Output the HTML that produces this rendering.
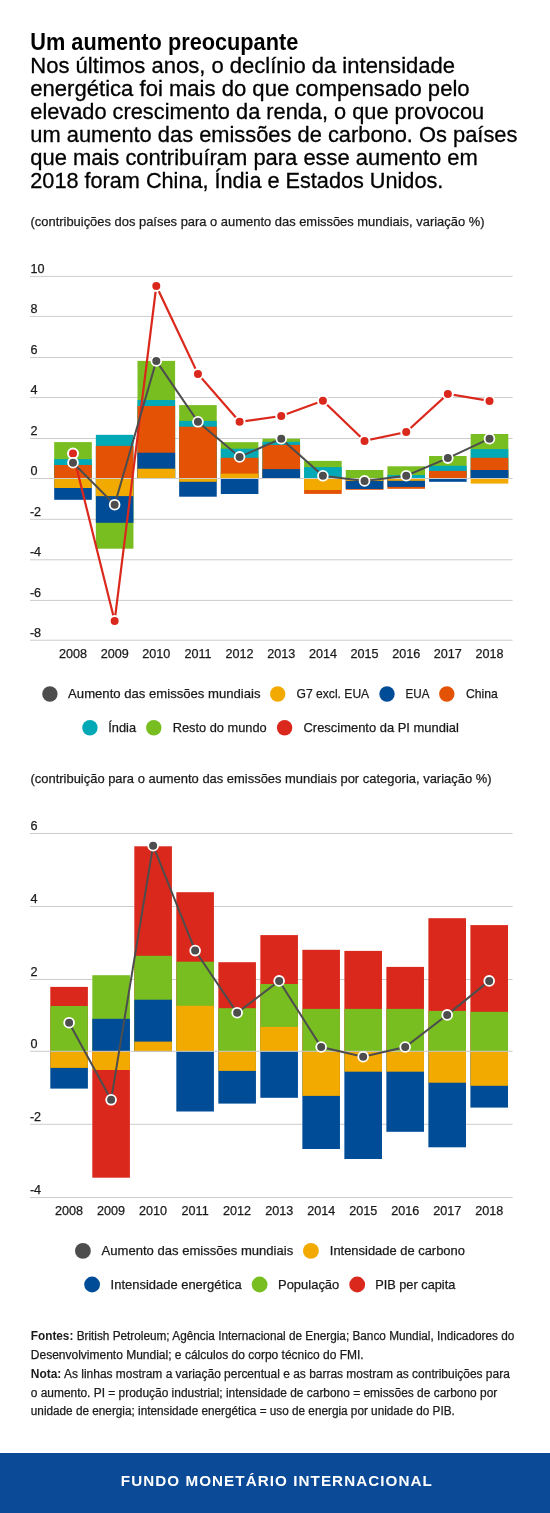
<!DOCTYPE html>
<html><head><meta charset="utf-8"><title>Um aumento preocupante</title>
<style>
html,body{margin:0;padding:0;background:#fff;}
body{width:550px;height:1513px;overflow:hidden;}
svg{display:block;font-family:"Liberation Sans", sans-serif;will-change:transform;}
</style></head><body>
<svg width="550" height="1513" viewBox="0 0 550 1513">
<text x="30.3" y="50" font-size="23" font-weight="bold" fill="#000" text-anchor="start" textLength="268" lengthAdjust="spacingAndGlyphs">Um aumento preocupante</text>
<text x="30.3" y="72.7" font-size="21.8" font-weight="normal" fill="#000" text-anchor="start" textLength="424.7" lengthAdjust="spacingAndGlyphs" stroke="#000" stroke-width="0.3">Nos últimos anos, o declínio da intensidade</text>
<text x="30.3" y="95.7" font-size="21.8" font-weight="normal" fill="#000" text-anchor="start" textLength="439.3" lengthAdjust="spacingAndGlyphs" stroke="#000" stroke-width="0.3">energética foi mais do que compensado pelo</text>
<text x="30.3" y="118.7" font-size="21.8" font-weight="normal" fill="#000" text-anchor="start" textLength="453.9" lengthAdjust="spacingAndGlyphs" stroke="#000" stroke-width="0.3">elevado crescimento da renda, o que provocou</text>
<text x="30.3" y="141.7" font-size="21.8" font-weight="normal" fill="#000" text-anchor="start" textLength="487.1" lengthAdjust="spacingAndGlyphs" stroke="#000" stroke-width="0.3">um aumento das emissões de carbono. Os países</text>
<text x="30.3" y="164.7" font-size="21.8" font-weight="normal" fill="#000" text-anchor="start" textLength="447.5" lengthAdjust="spacingAndGlyphs" stroke="#000" stroke-width="0.3">que mais contribuíram para esse aumento em</text>
<text x="30.3" y="187.7" font-size="21.8" font-weight="normal" fill="#000" text-anchor="start" textLength="413.0" lengthAdjust="spacingAndGlyphs" stroke="#000" stroke-width="0.3">2018 foram China, Índia e Estados Unidos.</text>
<text x="30.5" y="225.5" font-size="12.9" font-weight="normal" fill="#1a1a1a" text-anchor="start" textLength="454" lengthAdjust="spacingAndGlyphs" stroke="#1a1a1a" stroke-width="0.25">(contribuições dos países para o aumento das emissões mundiais, variação %)</text>
<rect x="30" y="275.90" width="482.6" height="1" fill="#cccccc"/>
<text x="30.5" y="272.9" font-size="12.6" font-weight="normal" fill="#1a1a1a" text-anchor="start" stroke="#1a1a1a" stroke-width="0.25">10</text>
<rect x="30" y="315.90" width="482.6" height="1" fill="#cccccc"/>
<text x="30.5" y="312.9" font-size="12.6" font-weight="normal" fill="#1a1a1a" text-anchor="start" stroke="#1a1a1a" stroke-width="0.25">8</text>
<rect x="30" y="357.00" width="482.6" height="1" fill="#cccccc"/>
<text x="30.5" y="354.0" font-size="12.6" font-weight="normal" fill="#1a1a1a" text-anchor="start" stroke="#1a1a1a" stroke-width="0.25">6</text>
<rect x="30" y="397.00" width="482.6" height="1" fill="#cccccc"/>
<text x="30.5" y="394.0" font-size="12.6" font-weight="normal" fill="#1a1a1a" text-anchor="start" stroke="#1a1a1a" stroke-width="0.25">4</text>
<rect x="30" y="438.00" width="482.6" height="1" fill="#cccccc"/>
<text x="30.5" y="435.0" font-size="12.6" font-weight="normal" fill="#1a1a1a" text-anchor="start" stroke="#1a1a1a" stroke-width="0.25">2</text>
<text x="30.5" y="475.0" font-size="12.6" font-weight="normal" fill="#1a1a1a" text-anchor="start" stroke="#1a1a1a" stroke-width="0.25">0</text>
<rect x="30" y="518.80" width="482.6" height="1" fill="#cccccc"/>
<text x="29.9" y="515.8" font-size="12.6" font-weight="normal" fill="#1a1a1a" text-anchor="start" stroke="#1a1a1a" stroke-width="0.25">-2</text>
<rect x="30" y="559.30" width="482.6" height="1" fill="#cccccc"/>
<text x="29.9" y="556.3" font-size="12.6" font-weight="normal" fill="#1a1a1a" text-anchor="start" stroke="#1a1a1a" stroke-width="0.25">-4</text>
<rect x="30" y="599.90" width="482.6" height="1" fill="#cccccc"/>
<text x="29.9" y="596.9" font-size="12.6" font-weight="normal" fill="#1a1a1a" text-anchor="start" stroke="#1a1a1a" stroke-width="0.25">-6</text>
<rect x="30" y="639.70" width="482.6" height="1" fill="#cccccc"/>
<text x="29.9" y="636.7" font-size="12.6" font-weight="normal" fill="#1a1a1a" text-anchor="start" stroke="#1a1a1a" stroke-width="0.25">-8</text>
<rect x="54.20" y="442.10" width="37.60" height="36.40" fill="#78be20"/>
<rect x="54.20" y="459.10" width="37.60" height="19.40" fill="#00a9b5"/>
<rect x="54.20" y="465.00" width="37.60" height="13.50" fill="#e35205"/>
<rect x="54.20" y="478.50" width="37.60" height="21.30" fill="#004c97"/>
<rect x="54.20" y="478.50" width="37.60" height="9.50" fill="#f2a900"/>
<rect x="95.85" y="434.80" width="37.60" height="43.70" fill="#00a9b5"/>
<rect x="95.85" y="445.90" width="37.60" height="32.60" fill="#e35205"/>
<rect x="95.85" y="478.50" width="37.60" height="70.20" fill="#78be20"/>
<rect x="95.85" y="478.50" width="37.60" height="44.30" fill="#004c97"/>
<rect x="95.85" y="478.50" width="37.60" height="17.60" fill="#f2a900"/>
<rect x="137.50" y="360.90" width="37.60" height="117.60" fill="#78be20"/>
<rect x="137.50" y="400.00" width="37.60" height="78.50" fill="#00a9b5"/>
<rect x="137.50" y="406.00" width="37.60" height="72.50" fill="#e35205"/>
<rect x="137.50" y="452.70" width="37.60" height="25.80" fill="#004c97"/>
<rect x="137.50" y="468.70" width="37.60" height="9.80" fill="#f2a900"/>
<rect x="179.15" y="405.10" width="37.60" height="73.40" fill="#78be20"/>
<rect x="179.15" y="420.90" width="37.60" height="57.60" fill="#00a9b5"/>
<rect x="179.15" y="426.70" width="37.60" height="51.80" fill="#e35205"/>
<rect x="179.15" y="478.50" width="37.60" height="18.20" fill="#004c97"/>
<rect x="179.15" y="478.50" width="37.60" height="3.30" fill="#f2a900"/>
<rect x="220.80" y="442.20" width="37.60" height="36.30" fill="#78be20"/>
<rect x="220.80" y="448.70" width="37.60" height="29.80" fill="#00a9b5"/>
<rect x="220.80" y="457.80" width="37.60" height="20.70" fill="#e35205"/>
<rect x="220.80" y="473.60" width="37.60" height="4.90" fill="#f2a900"/>
<rect x="220.80" y="478.50" width="37.60" height="15.50" fill="#004c97"/>
<rect x="262.45" y="438.70" width="37.60" height="39.80" fill="#78be20"/>
<rect x="262.45" y="441.80" width="37.60" height="36.70" fill="#00a9b5"/>
<rect x="262.45" y="444.90" width="37.60" height="33.60" fill="#e35205"/>
<rect x="262.45" y="469.10" width="37.60" height="9.40" fill="#004c97"/>
<rect x="304.10" y="460.90" width="37.60" height="17.60" fill="#78be20"/>
<rect x="304.10" y="467.10" width="37.60" height="11.40" fill="#00a9b5"/>
<rect x="304.10" y="478.50" width="37.60" height="15.40" fill="#e35205"/>
<rect x="304.10" y="478.50" width="37.60" height="11.50" fill="#f2a900"/>
<rect x="345.75" y="470.00" width="37.60" height="8.50" fill="#78be20"/>
<rect x="345.75" y="478.50" width="37.60" height="11.30" fill="#e35205"/>
<rect x="345.75" y="478.50" width="37.60" height="10.50" fill="#004c97"/>
<rect x="345.75" y="478.50" width="37.60" height="2.40" fill="#f2a900"/>
<rect x="387.40" y="466.30" width="37.60" height="12.20" fill="#78be20"/>
<rect x="387.40" y="475.00" width="37.60" height="3.50" fill="#00a9b5"/>
<rect x="387.40" y="478.50" width="37.60" height="10.30" fill="#e35205"/>
<rect x="387.40" y="478.50" width="37.60" height="8.40" fill="#004c97"/>
<rect x="387.40" y="478.50" width="37.60" height="2.30" fill="#f2a900"/>
<rect x="429.05" y="456.00" width="37.60" height="22.50" fill="#78be20"/>
<rect x="429.05" y="465.80" width="37.60" height="12.70" fill="#00a9b5"/>
<rect x="429.05" y="470.90" width="37.60" height="7.60" fill="#e35205"/>
<rect x="429.05" y="478.50" width="37.60" height="3.30" fill="#004c97"/>
<rect x="470.70" y="434.00" width="37.60" height="44.50" fill="#78be20"/>
<rect x="470.70" y="449.10" width="37.60" height="29.40" fill="#00a9b5"/>
<rect x="470.70" y="457.80" width="37.60" height="20.70" fill="#e35205"/>
<rect x="470.70" y="470.00" width="37.60" height="8.50" fill="#004c97"/>
<rect x="470.70" y="478.50" width="37.60" height="5.10" fill="#f2a900"/>
<rect x="30" y="478.0" width="482.6" height="1" fill="#cccccc"/>
<polyline points="73.00,453.6 114.65,620.9 156.30,286 197.95,374 239.60,421.8 281.25,416 322.90,400.7 364.55,440.9 406.20,432 447.85,393.9 489.50,400.9" fill="none" stroke="#da291c" stroke-width="2.2"/>
<circle cx="73.00" cy="453.60" r="5.0" fill="#da291c" stroke="#fff" stroke-width="2.0"/>
<circle cx="114.65" cy="620.90" r="5.0" fill="#da291c" stroke="#fff" stroke-width="2.0"/>
<circle cx="156.30" cy="286.00" r="5.0" fill="#da291c" stroke="#fff" stroke-width="2.0"/>
<circle cx="197.95" cy="374.00" r="5.0" fill="#da291c" stroke="#fff" stroke-width="2.0"/>
<circle cx="239.60" cy="421.80" r="5.0" fill="#da291c" stroke="#fff" stroke-width="2.0"/>
<circle cx="281.25" cy="416.00" r="5.0" fill="#da291c" stroke="#fff" stroke-width="2.0"/>
<circle cx="322.90" cy="400.70" r="5.0" fill="#da291c" stroke="#fff" stroke-width="2.0"/>
<circle cx="364.55" cy="440.90" r="5.0" fill="#da291c" stroke="#fff" stroke-width="2.0"/>
<circle cx="406.20" cy="432.00" r="5.0" fill="#da291c" stroke="#fff" stroke-width="2.0"/>
<circle cx="447.85" cy="393.90" r="5.0" fill="#da291c" stroke="#fff" stroke-width="2.0"/>
<circle cx="489.50" cy="400.90" r="5.0" fill="#da291c" stroke="#fff" stroke-width="2.0"/>
<polyline points="73.00,462.7 114.65,504.7 156.30,360.9 197.95,421.8 239.60,456.9 281.25,438.7 322.90,475.8 364.55,480.9 406.20,475.7 447.85,458.1 489.50,438.7" fill="none" stroke="#4d4d4d" stroke-width="2"/>
<circle cx="73.00" cy="462.70" r="4.9" fill="#4d4d4d" stroke="#fff" stroke-width="1.8"/>
<circle cx="114.65" cy="504.70" r="4.9" fill="#4d4d4d" stroke="#fff" stroke-width="1.8"/>
<circle cx="156.30" cy="360.90" r="4.9" fill="#4d4d4d" stroke="#fff" stroke-width="1.8"/>
<circle cx="197.95" cy="421.80" r="4.9" fill="#4d4d4d" stroke="#fff" stroke-width="1.8"/>
<circle cx="239.60" cy="456.90" r="4.9" fill="#4d4d4d" stroke="#fff" stroke-width="1.8"/>
<circle cx="281.25" cy="438.70" r="4.9" fill="#4d4d4d" stroke="#fff" stroke-width="1.8"/>
<circle cx="322.90" cy="475.80" r="4.9" fill="#4d4d4d" stroke="#fff" stroke-width="1.8"/>
<circle cx="364.55" cy="480.90" r="4.9" fill="#4d4d4d" stroke="#fff" stroke-width="1.8"/>
<circle cx="406.20" cy="475.70" r="4.9" fill="#4d4d4d" stroke="#fff" stroke-width="1.8"/>
<circle cx="447.85" cy="458.10" r="4.9" fill="#4d4d4d" stroke="#fff" stroke-width="1.8"/>
<circle cx="489.50" cy="438.70" r="4.9" fill="#4d4d4d" stroke="#fff" stroke-width="1.8"/>
<text x="73.0" y="657.7" font-size="12.6" font-weight="normal" fill="#1a1a1a" text-anchor="middle" stroke="#1a1a1a" stroke-width="0.25">2008</text>
<text x="114.65" y="657.7" font-size="12.6" font-weight="normal" fill="#1a1a1a" text-anchor="middle" stroke="#1a1a1a" stroke-width="0.25">2009</text>
<text x="156.3" y="657.7" font-size="12.6" font-weight="normal" fill="#1a1a1a" text-anchor="middle" stroke="#1a1a1a" stroke-width="0.25">2010</text>
<text x="197.95" y="657.7" font-size="12.6" font-weight="normal" fill="#1a1a1a" text-anchor="middle" stroke="#1a1a1a" stroke-width="0.25">2011</text>
<text x="239.6" y="657.7" font-size="12.6" font-weight="normal" fill="#1a1a1a" text-anchor="middle" stroke="#1a1a1a" stroke-width="0.25">2012</text>
<text x="281.25" y="657.7" font-size="12.6" font-weight="normal" fill="#1a1a1a" text-anchor="middle" stroke="#1a1a1a" stroke-width="0.25">2013</text>
<text x="322.9" y="657.7" font-size="12.6" font-weight="normal" fill="#1a1a1a" text-anchor="middle" stroke="#1a1a1a" stroke-width="0.25">2014</text>
<text x="364.55" y="657.7" font-size="12.6" font-weight="normal" fill="#1a1a1a" text-anchor="middle" stroke="#1a1a1a" stroke-width="0.25">2015</text>
<text x="406.2" y="657.7" font-size="12.6" font-weight="normal" fill="#1a1a1a" text-anchor="middle" stroke="#1a1a1a" stroke-width="0.25">2016</text>
<text x="447.85" y="657.7" font-size="12.6" font-weight="normal" fill="#1a1a1a" text-anchor="middle" stroke="#1a1a1a" stroke-width="0.25">2017</text>
<text x="489.5" y="657.7" font-size="12.6" font-weight="normal" fill="#1a1a1a" text-anchor="middle" stroke="#1a1a1a" stroke-width="0.25">2018</text>
<circle cx="49.90" cy="694.00" r="7.7" fill="#4d4d4d"/>
<text x="68.1" y="698.2" font-size="12.9" font-weight="normal" fill="#1a1a1a" text-anchor="start" textLength="192.4" lengthAdjust="spacingAndGlyphs" stroke="#1a1a1a" stroke-width="0.25">Aumento das emissões mundiais</text>
<circle cx="277.70" cy="694.00" r="7.7" fill="#f2a900"/>
<text x="296.6" y="698.2" font-size="12.9" font-weight="normal" fill="#1a1a1a" text-anchor="start" textLength="72.6" lengthAdjust="spacingAndGlyphs" stroke="#1a1a1a" stroke-width="0.25">G7 excl. EUA</text>
<circle cx="387.00" cy="694.00" r="7.7" fill="#004c97"/>
<text x="405.6" y="698.2" font-size="12.9" font-weight="normal" fill="#1a1a1a" text-anchor="start" textLength="23.9" lengthAdjust="spacingAndGlyphs" stroke="#1a1a1a" stroke-width="0.25">EUA</text>
<circle cx="446.80" cy="694.00" r="7.7" fill="#e35205"/>
<text x="465.9" y="698.2" font-size="12.9" font-weight="normal" fill="#1a1a1a" text-anchor="start" textLength="31.8" lengthAdjust="spacingAndGlyphs" stroke="#1a1a1a" stroke-width="0.25">China</text>
<circle cx="89.90" cy="727.80" r="7.7" fill="#00a9b5"/>
<text x="108.3" y="732" font-size="12.9" font-weight="normal" fill="#1a1a1a" text-anchor="start" textLength="27.8" lengthAdjust="spacingAndGlyphs" stroke="#1a1a1a" stroke-width="0.25">Índia</text>
<circle cx="153.80" cy="727.80" r="7.7" fill="#78be20"/>
<text x="172.7" y="732" font-size="12.9" font-weight="normal" fill="#1a1a1a" text-anchor="start" textLength="94.0" lengthAdjust="spacingAndGlyphs" stroke="#1a1a1a" stroke-width="0.25">Resto do mundo</text>
<circle cx="284.60" cy="727.80" r="7.7" fill="#da291c"/>
<text x="303.5" y="732" font-size="12.9" font-weight="normal" fill="#1a1a1a" text-anchor="start" textLength="155.4" lengthAdjust="spacingAndGlyphs" stroke="#1a1a1a" stroke-width="0.25">Crescimento da PI mundial</text>
<text x="30.5" y="783.3" font-size="12.9" font-weight="normal" fill="#1a1a1a" text-anchor="start" textLength="461" lengthAdjust="spacingAndGlyphs" stroke="#1a1a1a" stroke-width="0.25">(contribuição para o aumento das emissões mundiais por categoria, variação %)</text>
<rect x="30" y="833.00" width="482.6" height="1" fill="#cccccc"/>
<text x="30.5" y="830.0" font-size="12.6" font-weight="normal" fill="#1a1a1a" text-anchor="start" stroke="#1a1a1a" stroke-width="0.25">6</text>
<rect x="30" y="906.00" width="482.6" height="1" fill="#cccccc"/>
<text x="30.5" y="903.0" font-size="12.6" font-weight="normal" fill="#1a1a1a" text-anchor="start" stroke="#1a1a1a" stroke-width="0.25">4</text>
<rect x="30" y="979.00" width="482.6" height="1" fill="#cccccc"/>
<text x="30.5" y="976.0" font-size="12.6" font-weight="normal" fill="#1a1a1a" text-anchor="start" stroke="#1a1a1a" stroke-width="0.25">2</text>
<text x="30.5" y="1047.8" font-size="12.6" font-weight="normal" fill="#1a1a1a" text-anchor="start" stroke="#1a1a1a" stroke-width="0.25">0</text>
<rect x="30" y="1123.80" width="482.6" height="1" fill="#cccccc"/>
<text x="29.9" y="1120.8" font-size="12.6" font-weight="normal" fill="#1a1a1a" text-anchor="start" stroke="#1a1a1a" stroke-width="0.25">-2</text>
<rect x="30" y="1197.00" width="482.6" height="1" fill="#cccccc"/>
<text x="29.9" y="1194.0" font-size="12.6" font-weight="normal" fill="#1a1a1a" text-anchor="start" stroke="#1a1a1a" stroke-width="0.25">-4</text>
<rect x="50.30" y="986.90" width="37.60" height="64.40" fill="#da291c"/>
<rect x="50.30" y="1006.00" width="37.60" height="45.30" fill="#78be20"/>
<rect x="50.30" y="1051.30" width="37.60" height="37.30" fill="#004c97"/>
<rect x="50.30" y="1051.30" width="37.60" height="16.60" fill="#f2a900"/>
<rect x="92.31" y="975.20" width="37.60" height="76.10" fill="#78be20"/>
<rect x="92.31" y="1018.80" width="37.60" height="32.50" fill="#004c97"/>
<rect x="92.31" y="1051.30" width="37.60" height="126.40" fill="#da291c"/>
<rect x="92.31" y="1051.30" width="37.60" height="18.70" fill="#f2a900"/>
<rect x="134.32" y="846.30" width="37.60" height="205.00" fill="#da291c"/>
<rect x="134.32" y="955.80" width="37.60" height="95.50" fill="#78be20"/>
<rect x="134.32" y="999.70" width="37.60" height="51.60" fill="#004c97"/>
<rect x="134.32" y="1041.60" width="37.60" height="9.70" fill="#f2a900"/>
<rect x="176.33" y="892.20" width="37.60" height="159.10" fill="#da291c"/>
<rect x="176.33" y="961.70" width="37.60" height="89.60" fill="#78be20"/>
<rect x="176.33" y="1005.80" width="37.60" height="45.50" fill="#f2a900"/>
<rect x="176.33" y="1051.30" width="37.60" height="60.20" fill="#004c97"/>
<rect x="218.34" y="962.20" width="37.60" height="89.10" fill="#da291c"/>
<rect x="218.34" y="1008.20" width="37.60" height="43.10" fill="#78be20"/>
<rect x="218.34" y="1051.30" width="37.60" height="52.30" fill="#004c97"/>
<rect x="218.34" y="1051.30" width="37.60" height="19.60" fill="#f2a900"/>
<rect x="260.35" y="935.10" width="37.60" height="116.20" fill="#da291c"/>
<rect x="260.35" y="984.00" width="37.60" height="67.30" fill="#78be20"/>
<rect x="260.35" y="1026.90" width="37.60" height="24.40" fill="#f2a900"/>
<rect x="260.35" y="1051.30" width="37.60" height="46.50" fill="#004c97"/>
<rect x="302.36" y="949.80" width="37.60" height="101.50" fill="#da291c"/>
<rect x="302.36" y="1008.90" width="37.60" height="42.40" fill="#78be20"/>
<rect x="302.36" y="1051.30" width="37.60" height="97.70" fill="#004c97"/>
<rect x="302.36" y="1051.30" width="37.60" height="44.60" fill="#f2a900"/>
<rect x="344.37" y="950.90" width="37.60" height="100.40" fill="#da291c"/>
<rect x="344.37" y="1008.90" width="37.60" height="42.40" fill="#78be20"/>
<rect x="344.37" y="1051.30" width="37.60" height="107.70" fill="#004c97"/>
<rect x="344.37" y="1051.30" width="37.60" height="20.40" fill="#f2a900"/>
<rect x="386.38" y="966.90" width="37.60" height="84.40" fill="#da291c"/>
<rect x="386.38" y="1008.90" width="37.60" height="42.40" fill="#78be20"/>
<rect x="386.38" y="1051.30" width="37.60" height="80.50" fill="#004c97"/>
<rect x="386.38" y="1051.30" width="37.60" height="20.40" fill="#f2a900"/>
<rect x="428.39" y="918.20" width="37.60" height="133.10" fill="#da291c"/>
<rect x="428.39" y="1010.90" width="37.60" height="40.40" fill="#78be20"/>
<rect x="428.39" y="1051.30" width="37.60" height="96.00" fill="#004c97"/>
<rect x="428.39" y="1051.30" width="37.60" height="31.40" fill="#f2a900"/>
<rect x="470.40" y="925.10" width="37.60" height="126.20" fill="#da291c"/>
<rect x="470.40" y="1011.80" width="37.60" height="39.50" fill="#78be20"/>
<rect x="470.40" y="1051.30" width="37.60" height="56.30" fill="#004c97"/>
<rect x="470.40" y="1051.30" width="37.60" height="34.50" fill="#f2a900"/>
<rect x="30" y="1050.8" width="482.6" height="1" fill="#cccccc"/>
<polyline points="69.10,1022.7 111.11,1099.8 153.12,845.7 195.13,950.6 237.14,1012.7 279.15,980.9 321.16,1047 363.17,1056.7 405.18,1047 447.19,1014.9 489.20,980.9" fill="none" stroke="#4d4d4d" stroke-width="2"/>
<circle cx="69.10" cy="1022.70" r="4.9" fill="#4d4d4d" stroke="#fff" stroke-width="1.8"/>
<circle cx="111.11" cy="1099.80" r="4.9" fill="#4d4d4d" stroke="#fff" stroke-width="1.8"/>
<circle cx="153.12" cy="845.70" r="4.9" fill="#4d4d4d" stroke="#fff" stroke-width="1.8"/>
<circle cx="195.13" cy="950.60" r="4.9" fill="#4d4d4d" stroke="#fff" stroke-width="1.8"/>
<circle cx="237.14" cy="1012.70" r="4.9" fill="#4d4d4d" stroke="#fff" stroke-width="1.8"/>
<circle cx="279.15" cy="980.90" r="4.9" fill="#4d4d4d" stroke="#fff" stroke-width="1.8"/>
<circle cx="321.16" cy="1047.00" r="4.9" fill="#4d4d4d" stroke="#fff" stroke-width="1.8"/>
<circle cx="363.17" cy="1056.70" r="4.9" fill="#4d4d4d" stroke="#fff" stroke-width="1.8"/>
<circle cx="405.18" cy="1047.00" r="4.9" fill="#4d4d4d" stroke="#fff" stroke-width="1.8"/>
<circle cx="447.19" cy="1014.90" r="4.9" fill="#4d4d4d" stroke="#fff" stroke-width="1.8"/>
<circle cx="489.20" cy="980.90" r="4.9" fill="#4d4d4d" stroke="#fff" stroke-width="1.8"/>
<text x="69.1" y="1214.7" font-size="12.6" font-weight="normal" fill="#1a1a1a" text-anchor="middle" stroke="#1a1a1a" stroke-width="0.25">2008</text>
<text x="111.11" y="1214.7" font-size="12.6" font-weight="normal" fill="#1a1a1a" text-anchor="middle" stroke="#1a1a1a" stroke-width="0.25">2009</text>
<text x="153.12" y="1214.7" font-size="12.6" font-weight="normal" fill="#1a1a1a" text-anchor="middle" stroke="#1a1a1a" stroke-width="0.25">2010</text>
<text x="195.13" y="1214.7" font-size="12.6" font-weight="normal" fill="#1a1a1a" text-anchor="middle" stroke="#1a1a1a" stroke-width="0.25">2011</text>
<text x="237.14" y="1214.7" font-size="12.6" font-weight="normal" fill="#1a1a1a" text-anchor="middle" stroke="#1a1a1a" stroke-width="0.25">2012</text>
<text x="279.15" y="1214.7" font-size="12.6" font-weight="normal" fill="#1a1a1a" text-anchor="middle" stroke="#1a1a1a" stroke-width="0.25">2013</text>
<text x="321.16" y="1214.7" font-size="12.6" font-weight="normal" fill="#1a1a1a" text-anchor="middle" stroke="#1a1a1a" stroke-width="0.25">2014</text>
<text x="363.17" y="1214.7" font-size="12.6" font-weight="normal" fill="#1a1a1a" text-anchor="middle" stroke="#1a1a1a" stroke-width="0.25">2015</text>
<text x="405.18" y="1214.7" font-size="12.6" font-weight="normal" fill="#1a1a1a" text-anchor="middle" stroke="#1a1a1a" stroke-width="0.25">2016</text>
<text x="447.19" y="1214.7" font-size="12.6" font-weight="normal" fill="#1a1a1a" text-anchor="middle" stroke="#1a1a1a" stroke-width="0.25">2017</text>
<text x="489.2" y="1214.7" font-size="12.6" font-weight="normal" fill="#1a1a1a" text-anchor="middle" stroke="#1a1a1a" stroke-width="0.25">2018</text>
<circle cx="82.90" cy="1250.90" r="7.9" fill="#4d4d4d"/>
<text x="101.6" y="1255" font-size="12.9" font-weight="normal" fill="#1a1a1a" text-anchor="start" textLength="191.6" lengthAdjust="spacingAndGlyphs" stroke="#1a1a1a" stroke-width="0.25">Aumento das emissões mundiais</text>
<circle cx="310.90" cy="1250.90" r="7.9" fill="#f2a900"/>
<text x="329.8" y="1255" font-size="12.9" font-weight="normal" fill="#1a1a1a" text-anchor="start" textLength="135.1" lengthAdjust="spacingAndGlyphs" stroke="#1a1a1a" stroke-width="0.25">Intensidade de carbono</text>
<circle cx="92.10" cy="1284.50" r="7.9" fill="#004c97"/>
<text x="110.6" y="1288.6" font-size="12.9" font-weight="normal" fill="#1a1a1a" text-anchor="start" textLength="131.1" lengthAdjust="spacingAndGlyphs" stroke="#1a1a1a" stroke-width="0.25">Intensidade energética</text>
<circle cx="259.60" cy="1284.50" r="7.9" fill="#78be20"/>
<text x="278" y="1288.6" font-size="12.9" font-weight="normal" fill="#1a1a1a" text-anchor="start" textLength="61.3" lengthAdjust="spacingAndGlyphs" stroke="#1a1a1a" stroke-width="0.25">População</text>
<circle cx="357.20" cy="1284.50" r="7.9" fill="#da291c"/>
<text x="375.2" y="1288.6" font-size="12.9" font-weight="normal" fill="#1a1a1a" text-anchor="start" textLength="80.1" lengthAdjust="spacingAndGlyphs" stroke="#1a1a1a" stroke-width="0.25">PIB per capita</text>
<text x="30.8" y="1340" font-size="12" fill="#1a1a1a" stroke="#1a1a1a" stroke-width="0.25" textLength="483.5" lengthAdjust="spacingAndGlyphs"><tspan font-weight="bold" stroke-width="0">Fontes:</tspan> British Petroleum; Agência Internacional de Energia; Banco Mundial, Indicadores do</text>
<text x="30.8" y="1359" font-size="12" fill="#1a1a1a" stroke="#1a1a1a" stroke-width="0.25">Desenvolvimento Mundial; e cálculos do corpo técnico do FMI.</text>
<text x="30.8" y="1377.8" font-size="12" fill="#1a1a1a" stroke="#1a1a1a" stroke-width="0.25" textLength="479" lengthAdjust="spacingAndGlyphs"><tspan font-weight="bold" stroke-width="0">Nota:</tspan> As linhas mostram a variação percentual e as barras mostram as contribuições para</text>
<text x="30.8" y="1396.6" font-size="12" fill="#1a1a1a" stroke="#1a1a1a" stroke-width="0.25" textLength="466.5" lengthAdjust="spacingAndGlyphs">o aumento. PI = produção industrial; intensidade de carbono = emissões de carbono por</text>
<text x="30.8" y="1415.4" font-size="12" fill="#1a1a1a" stroke="#1a1a1a" stroke-width="0.25" textLength="424" lengthAdjust="spacingAndGlyphs">unidade de energia; intensidade energética = uso de energia por unidade do PIB.</text>
<rect x="0" y="1453" width="550" height="60" fill="#0a4a96"/>
<text x="120.8" y="1485.7" font-size="15.2" font-weight="bold" fill="#fff" text-anchor="start" textLength="311" lengthAdjust="spacing">FUNDO MONETÁRIO INTERNACIONAL</text>
</svg>
</body></html>
